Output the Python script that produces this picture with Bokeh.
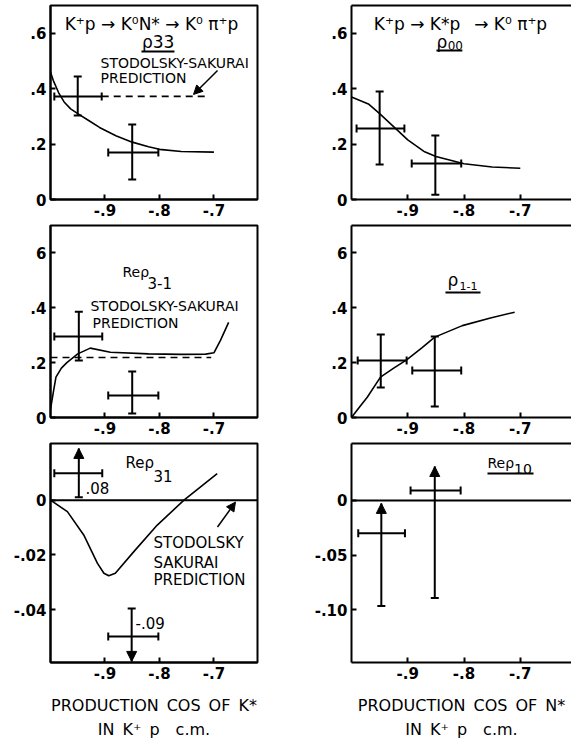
import numpy as np
from bokeh.plotting import figure
from bokeh.layouts import column, row
from bokeh.models import (ColumnDataSource, Whisker, TeeHead, NormalHead, Arrow, Span,
                          FixedTicker, LinearAxis, Range1d)
from bokeh.core.properties import value
from bokeh.embed import file_html
from bokeh.resources import INLINE

FONT = "DejaVu Sans"

# ---------------- data ----------------
x_ticks = [-0.9, -0.8, -0.7]
x_tick_labels = ["-.9", "-.8", "-.7"]

top_y_ticks = [0.0, 0.2, 0.4, 0.6]
top_y_labels = ["0", ".2", ".4", ".6"]
mid_y_ticks = [0.0, 0.2, 0.4, 0.6]
mid_y_labels = ["0", ".2", ".4", "6"]
re31_y_ticks = [0.0, -0.02, -0.04]
re31_y_labels = ["0", "-.02", "-.04"]
re10_y_ticks = [0.0, -0.05, -0.10]
re10_y_labels = ["0", "-.05", "-.10"]

# rho33 panel
rho33_x = [-0.950, -0.850]
rho33_y = [0.372, 0.170]
rho33_ylo = [0.303, 0.072]
rho33_yhi = [0.444, 0.271]
rho33_xlo = [-0.993, -0.894]
rho33_xhi = [-0.906, -0.802]
rho33_curve_x = [-1.0, -0.995, -0.985, -0.975, -0.963, -0.95, -0.93, -0.91, -0.88, -0.85, -0.82, -0.80, -0.76, -0.70]
rho33_curve_y = [0.46, 0.43, 0.385, 0.352, 0.327, 0.31, 0.285, 0.26, 0.23, 0.207, 0.19, 0.181, 0.173, 0.171]
rho33_pred_x = [-0.906, -0.71]
rho33_pred_y = [0.372, 0.372]

# rho00 panel
rho00_x = [-0.950, -0.851]
rho00_y = [0.256, 0.130]
rho00_ylo = [0.126, 0.017]
rho00_yhi = [0.390, 0.231]
rho00_xlo = [-0.991, -0.893]
rho00_xhi = [-0.906, -0.805]
rho00_curve_x = [-1.0, -0.97, -0.95, -0.93, -0.90, -0.87, -0.85, -0.80, -0.75, -0.70]
rho00_curve_y = [0.37, 0.345, 0.31, 0.272, 0.215, 0.172, 0.155, 0.129, 0.117, 0.113]

# Re rho3-1 panel
re3m1_x = [-0.948, -0.850]
re3m1_y = [0.295, 0.080]
re3m1_ylo = [0.208, 0.015]
re3m1_yhi = [0.386, 0.168]
re3m1_xlo = [-0.993, -0.894]
re3m1_xhi = [-0.905, -0.802]
re3m1_curve_x = [-1.0, -0.995, -0.99, -0.98, -0.97, -0.95, -0.927, -0.89, -0.82, -0.76, -0.715, -0.70, -0.688, -0.673]
re3m1_curve_y = [0.03, 0.09, 0.147, 0.18, 0.20, 0.232, 0.253, 0.238, 0.232, 0.23, 0.231, 0.236, 0.281, 0.347]
re3m1_pred_x = [-1.0, -0.705]
re3m1_pred_y = [0.219, 0.219]

# rho1-1 panel
rho11_x = [-0.948, -0.852]
rho11_y = [0.208, 0.171]
rho11_ylo = [0.109, 0.040]
rho11_yhi = [0.303, 0.295]
rho11_xlo = [-0.989, -0.892]
rho11_xhi = [-0.902, -0.805]
rho11_curve_x = [-1.0, -0.985, -0.972, -0.9485, -0.925, -0.902, -0.875, -0.852, -0.803, -0.753, -0.71]
rho11_curve_y = [0.0, 0.04, 0.074, 0.147, 0.18, 0.21, 0.254, 0.293, 0.335, 0.363, 0.384]

# Re rho31 panel
re31_x = [-0.948, -0.851]
re31_y = [0.0098, -0.0498]
re31_ylo = [0.0011, -0.09]
re31_yhi = [0.08, -0.0396]
re31_xlo = [-0.993, -0.894]
re31_xhi = [-0.905, -0.802]
re31_curve_x = [-1.0, -0.969, -0.939, -0.914, -0.902, -0.893, -0.881, -0.847, -0.804, -0.755, -0.694]
re31_curve_y = [0.0, -0.0042, -0.0127, -0.023, -0.0267, -0.0276, -0.0267, -0.0188, -0.0091, 0.0, 0.0097]

# Re rho10 panel
re10_x = [-0.947, -0.852]
re10_y = [-0.030, 0.0091]
re10_ylo = [-0.0964, -0.089]
re10_yhi = [-0.0027, 0.031]
re10_xlo = [-0.988, -0.895]
re10_xhi = [-0.905, -0.806]

# ---------------- helpers ----------------
L_X = (-1.0, -0.62)
R_X = (-1.0, -0.609)


def make_fig(width, height, xr, yr, borders, yticks, ylabels, full_box=True):
    l, r, t, b = borders
    p = figure(width=width, height=height, x_range=Range1d(*xr), y_range=Range1d(*yr),
               output_backend="svg", toolbar_location=None,
               min_border_left=l, min_border_right=r, min_border_top=t, min_border_bottom=b,
               background_fill_color="white", border_fill_color="white")
    p.grid.visible = False
    p.outline_line_color = "black" if full_box else None
    p.outline_line_width = 2
    xa = p.below[0]
    ya = p.left[0]
    for ax in (xa, ya):
        ax.axis_line_width = 2
        ax.axis_line_color = "black"
        ax.major_tick_in = 5
        ax.major_tick_out = 0
        ax.major_tick_line_width = 2
        ax.minor_tick_line_color = None
        ax.major_label_text_font = FONT
        ax.major_label_text_font_size = "15px"
        ax.major_label_text_font_style = "bold"
        ax.major_label_text_color = "black"
        ax.major_label_standoff = 4
    xa.ticker = FixedTicker(ticks=x_ticks)
    xa.major_label_overrides = dict(zip(x_ticks, x_tick_labels))
    ya.ticker = FixedTicker(ticks=yticks)
    ya.major_label_overrides = dict(zip(yticks, ylabels))
    if not full_box:
        top = LinearAxis(ticker=FixedTicker(ticks=[]), axis_line_width=2, axis_line_color="black",
                         major_tick_out=0, major_tick_in=0, minor_tick_out=0, minor_tick_in=0,
                         major_label_standoff=0, major_label_text_font_size="0px")
        p.add_layout(top, "above")
    return p


def txt(p, x, y, s, size="15px", align="left", style="normal"):
    p.text(x=[x], y=[y], text=[s], text_font=value(FONT), text_font_size=size,
           text_align=align, text_baseline="middle", text_color="black", text_font_style=style)


def tee():
    return TeeHead(size=8, line_width=2, line_color="black")


def arrowhead():
    return NormalHead(size=10, fill_color="black", line_color="black", line_width=1)


def vbar(p, x, lo, hi, lo_head, hi_head):
    src = ColumnDataSource(dict(b=[x], lo=[lo], hi=[hi]))
    p.add_layout(Whisker(source=src, base="b", lower="lo", upper="hi", dimension="height",
                         lower_head=lo_head, upper_head=hi_head, line_width=2, line_color="black"))


def hbar(p, y, lo, hi):
    src = ColumnDataSource(dict(b=[y], lo=[lo], hi=[hi]))
    p.add_layout(Whisker(source=src, base="b", lower="lo", upper="hi", dimension="width",
                         lower_head=tee(), upper_head=tee(), line_width=2, line_color="black"))


def crosses(p, xs, ys, xlo, xhi, ylo, yhi):
    for i in range(len(xs)):
        vbar(p, xs[i], ylo[i], yhi[i], tee(), tee())
        hbar(p, ys[i], xlo[i], xhi[i])


def pointer(p, x0, y0, x1, y1):
    p.add_layout(Arrow(end=NormalHead(size=9, fill_color="black", line_color="black"),
                       x_start=x0, y_start=y0, x_end=x1, y_end=y1, line_width=1.5, line_color="black"))


# ---------------- row 1 ----------------
p1 = make_fig(290, 222, L_X, (0, 0.70), (50, 33, 5, 23), top_y_ticks, top_y_labels)
p1.line(rho33_curve_x, rho33_curve_y, line_width=1.6, line_color="black")
p1.line(rho33_pred_x, rho33_pred_y, line_width=1.6, line_color="black", line_dash="7 5")
crosses(p1, rho33_x, rho33_y, rho33_xlo, rho33_xhi, rho33_ylo, rho33_yhi)
txt(p1, -0.8146, 0.635, "K⁺p → K⁰N* → K⁰ π⁺p", size="17px", align="center")
txt(p1, -0.832, 0.567, "ρ33", size="17px")
p1.line([-0.833, -0.7724], [0.534, 0.534], line_width=2, line_color="black")
txt(p1, -0.908, 0.494, "STODOLSKY-SAKURAI", size="14px")
txt(p1, -0.908, 0.440, "PREDICTION", size="14px")
pointer(p1, -0.6934, 0.4655, -0.7375, 0.379)

p2 = make_fig(281, 222, R_X, (0, 0.70), (61, 0, 5, 23), top_y_ticks, top_y_labels, full_box=False)
p2.line(rho00_curve_x, rho00_curve_y, line_width=1.6, line_color="black")
crosses(p2, rho00_x, rho00_y, rho00_xlo, rho00_xhi, rho00_ylo, rho00_yhi)
txt(p2, -0.8063, 0.635, "K⁺p → K*p\u2002 → K⁰ π⁺p", size="17px", align="center")
txt(p2, -0.849, 0.567, "ρ", size="17px")
txt(p2, -0.829, 0.556, "00", size="12px")
p2.line([-0.849, -0.803], [0.538, 0.538], line_width=2, line_color="black")

# ---------------- row 2 ----------------
p3 = make_fig(290, 217, L_X, (0, 0.70), (50, 33, 3, 22), mid_y_ticks, mid_y_labels)
p3.line(re3m1_curve_x, re3m1_curve_y, line_width=1.6, line_color="black")
p3.line(re3m1_pred_x, re3m1_pred_y, line_width=1.6, line_color="black", line_dash="7 5")
crosses(p3, re3m1_x, re3m1_y, re3m1_xlo, re3m1_xhi, re3m1_ylo, re3m1_yhi)
txt(p3, -0.8678, 0.532, "Reρ", size="14px")
txt(p3, -0.8220, 0.492, "3-1", size="15px")
txt(p3, -0.9266, 0.405, "STODOLSKY-SAKURAI", size="14px")
txt(p3, -0.9229, 0.343, "PREDICTION", size="14px")

p4 = make_fig(281, 217, R_X, (0, 0.70), (61, 0, 3, 22), mid_y_ticks, mid_y_labels, full_box=False)
p4.line(rho11_curve_x, rho11_curve_y, line_width=1.6, line_color="black")
crosses(p4, rho11_x, rho11_y, rho11_xlo, rho11_xhi, rho11_ylo, rho11_yhi)
txt(p4, -0.8294, 0.503, "ρ", size="17px")
txt(p4, -0.808, 0.478, "1-1", size="11px")
p4.line([-0.833, -0.7707], [0.456, 0.456], line_width=2, line_color="black")

# ---------------- row 3 ----------------
Y5 = (-0.0593, 0.0207)
p5 = make_fig(290, 303, L_X, Y5, (50, 33, 4, 79), re31_y_ticks, re31_y_labels)
p5.add_layout(Span(location=0, dimension="width", line_width=2, line_color="black"))
p5.line(re31_curve_x, re31_curve_y, line_width=1.6, line_color="black")
pad5 = 0.0018
vbar(p5, re31_x[0], re31_ylo[0], min(re31_yhi[0], Y5[1] - pad5), tee(), arrowhead())
hbar(p5, re31_y[0], re31_xlo[0], re31_xhi[0])
vbar(p5, re31_x[1], max(re31_ylo[1], Y5[0] + 0.0004), re31_yhi[1], arrowhead(), tee())
hbar(p5, re31_y[1], re31_xlo[1], re31_xhi[1])
txt(p5, -0.9357, 0.00436, ".08", size="15px")
txt(p5, -0.844, -0.0447, "-.09", size="15px")
txt(p5, -0.8623, 0.01345, "Reρ", size="15px")
txt(p5, -0.811, 0.0087, "31", size="15px")
txt(p5, -0.811, -0.0156, "STODOLSKY", size="15px")
txt(p5, -0.811, -0.0229, "SAKURAI", size="15px")
txt(p5, -0.811, -0.0291, "PREDICTION", size="15px")
pointer(p5, -0.6934, -0.0098, -0.6604, -0.0007)

Y6 = (-0.148, 0.052)
p6 = make_fig(281, 303, R_X, Y6, (61, 0, 4, 79), re10_y_ticks, re10_y_labels, full_box=False)
p6.add_layout(Span(location=0, dimension="width", line_width=2, line_color="black"))
for i in range(len(re10_x)):
    vbar(p6, re10_x[i], re10_ylo[i], re10_yhi[i], tee(), arrowhead())
    hbar(p6, re10_y[i], re10_xlo[i], re10_xhi[i])
txt(p6, -0.7583, 0.0345, "Reρ", size="14px")
txt(p6, -0.711, 0.029, "10", size="14px")
p6.line([-0.7583, -0.6765], [0.0245, 0.0245], line_width=2, line_color="black")

for p, lab in ((p5, "PRODUCTION\u2002COS\u2002OF\u2002K*\nIN\u2002K⁺\u2002p\u2003c.m."),
               (p6, "PRODUCTION\u2002COS\u2002OF\u2002N*\nIN\u2002K⁺\u2002p\u2003c.m.")):
    ax = p.below[0]
    ax.axis_label = lab
    ax.axis_label_text_font = FONT
    ax.axis_label_text_font_size = "16px"
    ax.axis_label_text_font_style = "normal"
    ax.axis_label_text_color = "black"
    ax.axis_label_standoff = 14
    ax.axis_label_text_line_height = 1.3

layout = column(row(p1, p2), row(p3, p4), row(p5, p6))
open("out.html", "w").write(file_html(layout, INLINE))
